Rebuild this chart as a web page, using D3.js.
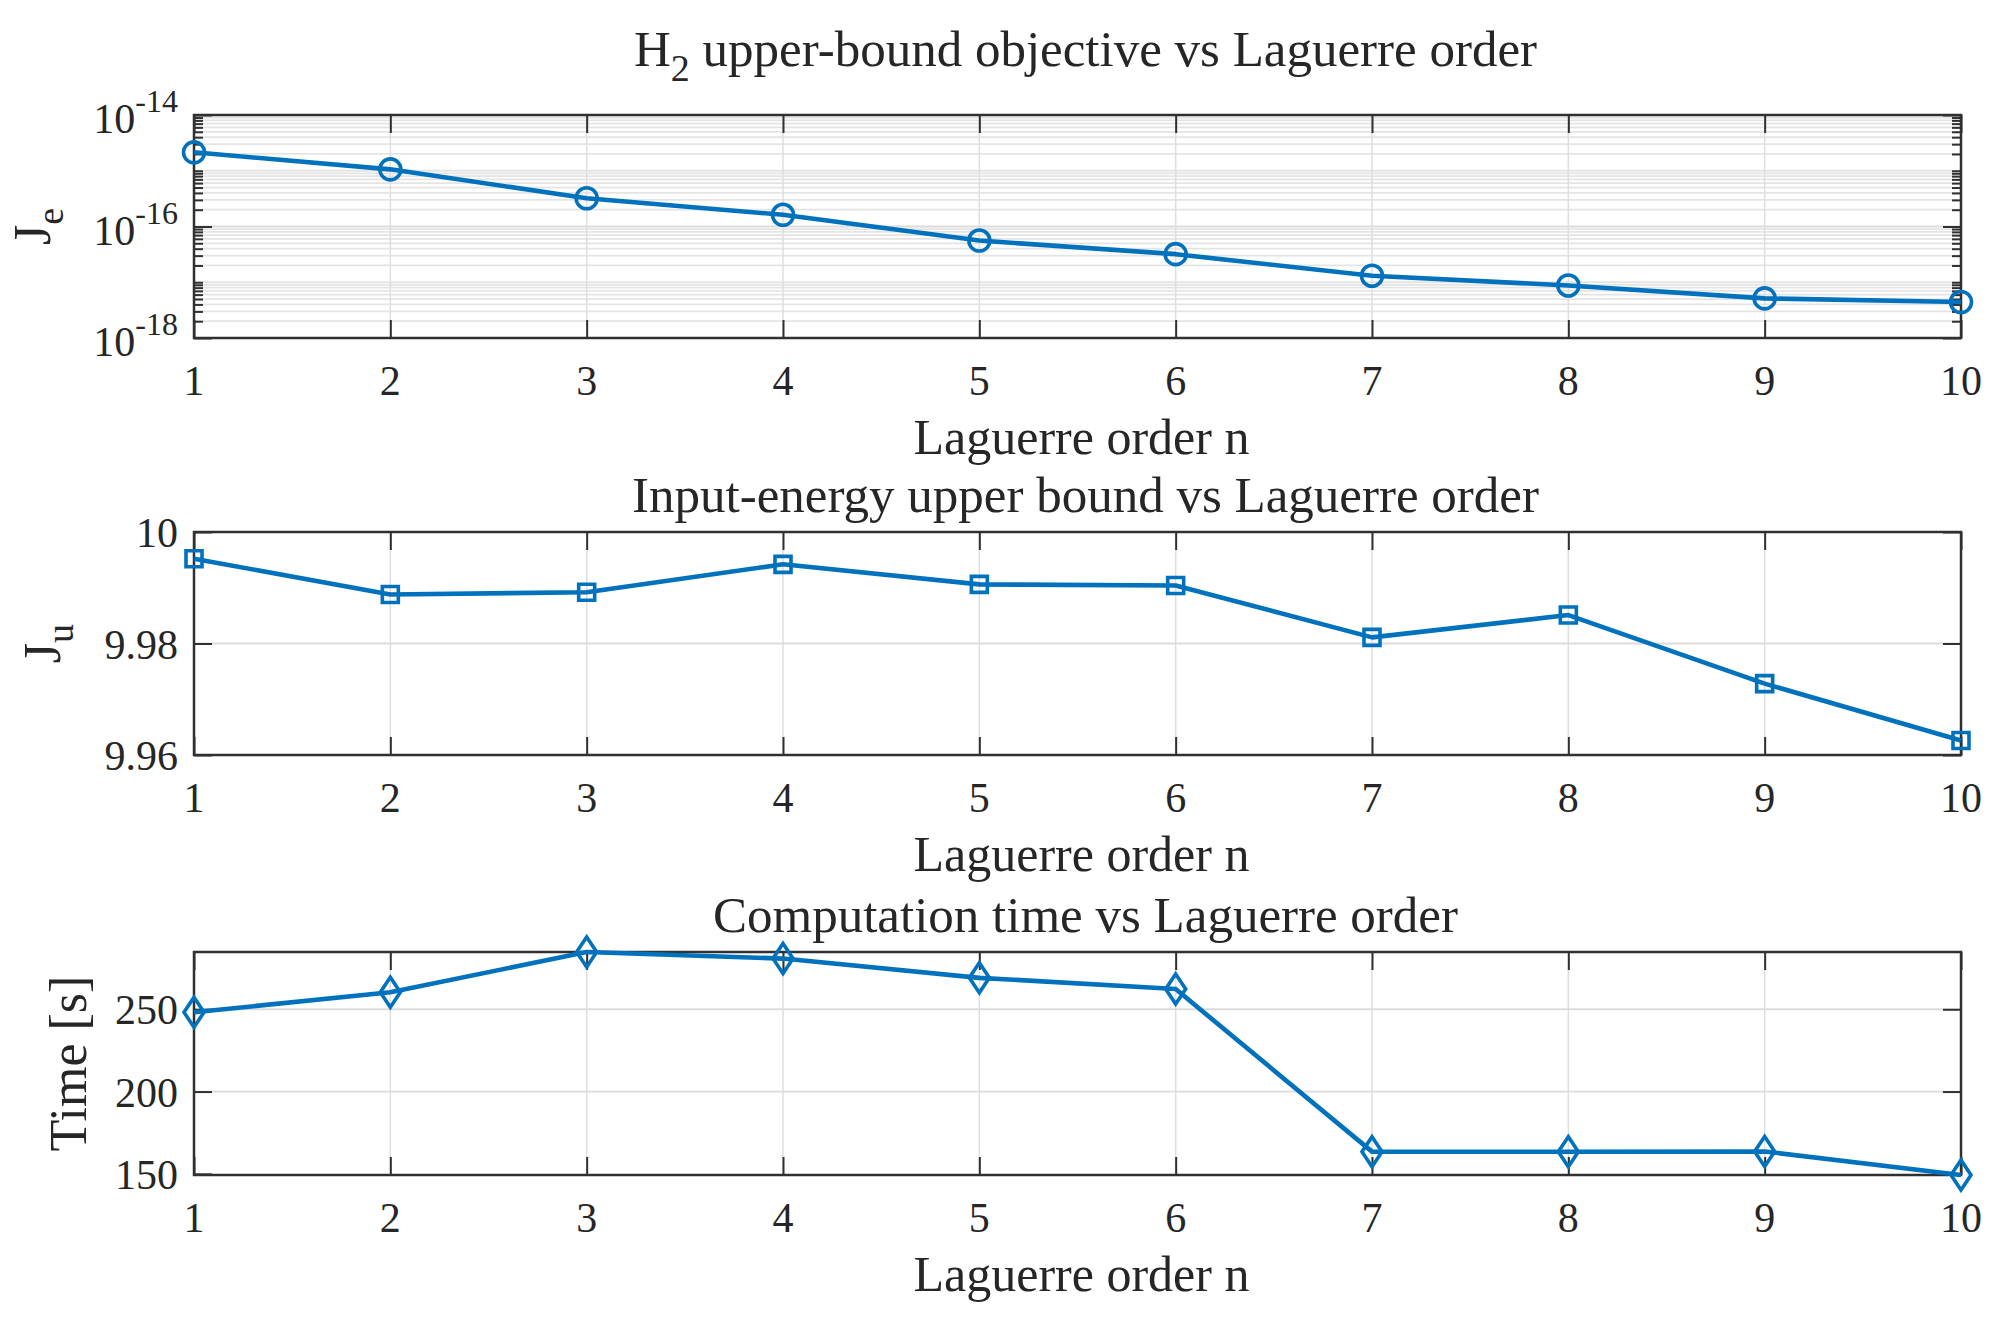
<!DOCTYPE html>
<html><head><meta charset="utf-8">
<script src="https://cdn.jsdelivr.net/npm/d3@7"></script>
<style>
body{margin:0;background:#fff}
text{font-family:"Liberation Serif","Times New Roman",serif;fill:#262626}
</style>
</head><body>
<svg id="c" width="2015" height="1320"></svg>
<script>
// ---- data ----
const orders = [1,2,3,4,5,6,7,8,9,10];
const jeValues = [2.14e-15,1.06e-15,3.21e-16,1.62e-16,5.6e-17,3.19e-17,1.31e-17,8.77e-18,5.13e-18,4.42e-18];
const juValues = [9.9952,9.9888,9.9892,9.9942,9.9906,9.9904,9.9811,9.9851,9.9728,9.9626];
const timeValues = [248.2,260.3,284.8,280.8,269.1,262.3,163.5,163.4,163.6,149.3];
const xTicks = [1,2,3,4,5,6,7,8,9,10];
const jeTicks = [1e-18,1e-16,1e-14];
const juTicks = [9.96,9.98,10];
const timeTicks = [150,200,250];
const titleTexts = [["H","2"," upper-bound objective vs Laguerre order"],["Input-energy upper bound vs Laguerre order"],["Computation time vs Laguerre order"]];
const yLabelTexts = [["J","e"],["J","u"],["Time [s]"]];
const xLabelText = "Laguerre order n";

// ---- layout ----
const W=2015,H=1320;
const L=194,R=1961,PH=223;
const tops=[115,532,952];
const blue="#0072BD", axc="#303030";
const svg=d3.select("#c");
svg.append("rect").attr("width",W).attr("height",H).attr("fill","#fff");

const x=d3.scaleLinear().domain([1,10]).range([L,R]);
const line=(ys)=>d3.line().x((d,i)=>x(orders[i])).y(d=>ys(d));

function panel(idx, yScale, values, majorTicks, minorTicks, tickFmt, marker){
  const top=tops[idx], bot=top+PH;
  const g=svg.append("g");
  // minor grid
  g.selectAll(null).data(minorTicks).enter().append("line")
    .attr("x1",L).attr("x2",R).attr("y1",d=>yScale(d)).attr("y2",d=>yScale(d))
    .attr("stroke","#e4e4e4").attr("stroke-width",1.8);
  // x grid
  g.selectAll(null).data(xTicks.slice(1,-1)).enter().append("line")
    .attr("x1",d=>x(d)).attr("x2",d=>x(d)).attr("y1",top).attr("y2",bot)
    .attr("stroke","#dedede").attr("stroke-width",1.5);
  // y major grid
  g.selectAll(null).data(majorTicks.filter(t=>Math.abs(yScale(t)-top)>2&&Math.abs(yScale(t)-bot)>2)).enter().append("line")
    .attr("x1",L).attr("x2",R).attr("y1",d=>yScale(d)).attr("y2",d=>yScale(d))
    .attr("stroke","#dcdcdc").attr("stroke-width",1.8);
  // ticks via d3 axes
  const tl=18;
  const axB=d3.axisBottom(x).tickValues(xTicks).tickSize(-tl).tickFormat("");
  const axT=d3.axisTop(x).tickValues(xTicks).tickSize(-tl).tickFormat("");
  const axL=d3.axisLeft(yScale).tickValues(majorTicks).tickSize(-tl).tickFormat("");
  const axR=d3.axisRight(yScale).tickValues(majorTicks).tickSize(-tl).tickFormat("");
  const aG=[g.append("g").attr("transform",`translate(0,${bot})`).call(axB),
    g.append("g").attr("transform",`translate(0,${top})`).call(axT),
    g.append("g").attr("transform",`translate(${L},0)`).call(axL),
    g.append("g").attr("transform",`translate(${R},0)`).call(axR)];
  if(minorTicks.length){
    aG.push(g.append("g").attr("transform",`translate(${L},0)`).call(d3.axisLeft(yScale).tickValues(minorTicks).tickSize(-9).tickFormat("")));
    aG.push(g.append("g").attr("transform",`translate(${R},0)`).call(d3.axisRight(yScale).tickValues(minorTicks).tickSize(-9).tickFormat("")));
  }
  aG.forEach(a=>{a.select(".domain").remove();a.selectAll("line").attr("stroke",axc).attr("stroke-width",2);});
  // box
  g.append("rect").attr("x",L).attr("y",top).attr("width",R-L).attr("height",PH)
    .attr("fill","none").attr("stroke",axc).attr("stroke-width",2.5);
  // x tick labels
  g.selectAll(null).data(xTicks).enter().append("text")
    .attr("x",d=>x(d)).attr("y",bot+57).attr("text-anchor","middle")
    .attr("font-size",42).text(d=>d);
  // y tick labels
  majorTicks.forEach(t=>tickFmt(g,t,yScale(t)));
  // data line
  g.append("path").datum(values).attr("d",line(yScale))
    .attr("fill","none").attr("stroke",blue).attr("stroke-width",4.6).attr("stroke-linejoin","round");
  // markers
  g.selectAll(null).data(values).enter().append("path")
    .attr("transform",(d,i)=>`translate(${x(orders[i])},${yScale(d)})`)
    .attr("d",marker).attr("fill","none").attr("stroke",blue).attr("stroke-width",3.6);
  // x label
  g.append("text").attr("x",(L+R)/2+4).attr("y",bot+116).attr("text-anchor","middle")
    .attr("font-size",50).text(xLabelText);
  // title
  const tt=g.append("text").attr("x",(L+R)/2+8).attr("y",idx===0?66:top-20).attr("text-anchor","middle").attr("font-size",51);
  const parts=titleTexts[idx];
  if(parts.length===3){
    tt.append("tspan").text(parts[0]);
    tt.append("tspan").attr("font-size",38).attr("dy",15).text(parts[1]);
    tt.append("tspan").attr("dy",-15).text(parts[2]);
  } else tt.text(parts[0]);
  // y label
  const ylx=[50,60,86][idx];
  const yl=g.append("text").attr("transform",`translate(${ylx},${top+PH/2}) rotate(-90)`)
    .attr("text-anchor","middle").attr("font-size",52);
  const yp=yLabelTexts[idx];
  if(yp.length===2){
    yl.append("tspan").text(yp[0]);
    yl.append("tspan").attr("font-size",38).attr("dy",13).text(yp[1]);
  } else yl.text(yp[0]);
}

const ticksX=178;
function plainFmt(g,t,y){
  g.append("text").attr("x",ticksX).attr("y",y).attr("dy","0.36em").attr("text-anchor","end")
    .attr("font-size",42).text(d3.format("")(t));
}
function expFmt(g,t,y){
  const e=Math.round(Math.log10(t));
  const tx=g.append("text").attr("x",ticksX).attr("y",y+18).attr("text-anchor","end").attr("font-size",42);
  tx.append("tspan").text("10");
  tx.append("tspan").attr("font-size",32).attr("dy",-21).text(String(e));
}

// panel 1 (log)
const y1=d3.scaleLog().domain([1e-18,1e-14]).range([tops[0]+PH,tops[0]]);
const minor1=[];
[-18,-17,-16,-15].forEach(k=>{for(let m=2;m<=9;m++)minor1.push(m*Math.pow(10,k));});
minor1.push(1e-17,1e-15);
const circle=d3.symbol().type(d3.symbolCircle).size(Math.PI*10.5*10.5)();
panel(0,y1,jeValues,jeTicks,minor1,expFmt,circle);

// panel 2
const y2=d3.scaleLinear().domain([9.96,10]).range([tops[1]+PH,tops[1]]);
const square=d3.symbol().type(d3.symbolSquare).size(16*16)();
panel(1,y2,juValues,juTicks,[],(g,t,y)=>{g.append("text").attr("x",ticksX).attr("y",y).attr("dy","0.36em").attr("text-anchor","end").attr("font-size",42).text(d3.format(".3~f")(t));},square);

// panel 3
const y3=d3.scaleLinear().domain([d3.min(timeValues),d3.max(timeValues)]).range([tops[2]+PH,tops[2]]);
const diamond="M0,-15L10,0L0,15L-10,0Z";
panel(2,y3,timeValues,timeTicks,[],plainFmt,diamond);
</script>
</body></html>
